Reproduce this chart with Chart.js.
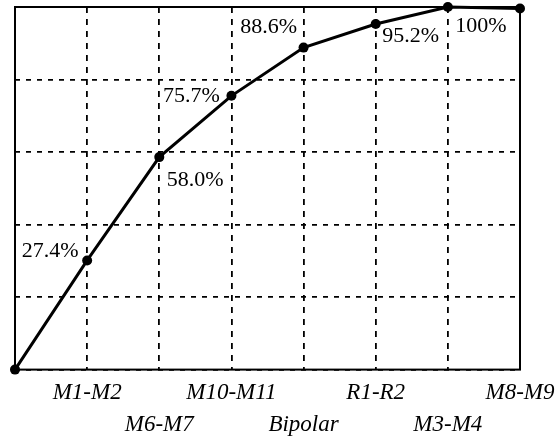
<!DOCTYPE html>
<html>
<head>
<meta charset="utf-8">
<script src="https://cdn.jsdelivr.net/npm/chart.js@4"></script>
<style>
  body { margin: 0; background: #fff; }
  #wrap { width: 560px; height: 441px; }
</style>
</head>
<body>
<div id="wrap"><canvas id="myChart"></canvas></div>
<script>
const categories = ['', 'M1-M2', 'M6-M7', 'M10-M11', 'Bipolar', 'R1-R2', 'M3-M4', 'M8-M9'];
const values = [0, 30.1, 58.6, 75.5, 88.8, 95.3, 100, 99.6];
const valueLabels = ['', '27.4%', '58.0%', '75.7%', '88.6%', '95.2%', '100%', ''];
const yTicks = [0, 20, 40, 60, 80, 100];

const serif = "'Liberation Serif', 'Times New Roman', Times, serif";

// where each percentage sits relative to its point
const labelOffsets = [[0, 0], [-37, -9], [36, 23], [-40, 0], [-35, -20], [35, 12], [33, 19], [0, 0]];

const pointLabels = {
    id: 'pointLabels',
    afterDatasetsDraw(chart) {
        const ctx = chart.ctx;
        const meta = chart.getDatasetMeta(0);
        ctx.save();
        ctx.font = '22px ' + serif;
        ctx.fillStyle = '#000';
        ctx.textAlign = 'center';
        ctx.textBaseline = 'middle';
        meta.data.forEach((pt, i) => {
            if (!valueLabels[i]) return;
            ctx.fillText(valueLabels[i], pt.x + labelOffsets[i][0], pt.y + labelOffsets[i][1]);
        });
        ctx.restore();
    }
};

const frame = {
    id: 'frame',
    beforeDatasetsDraw(chart) {
        const a = chart.chartArea;
        const ctx = chart.ctx;
        ctx.save();
        ctx.strokeStyle = '#000';
        ctx.lineWidth = 2;
        ctx.strokeRect(a.left, a.top, a.right - a.left, a.bottom - a.top);
        ctx.restore();
    }
};

const ctx = document.getElementById('myChart');
const myChart = new Chart(ctx, {
    type: 'line',
    data: {
        labels: categories,
        datasets: [{
            data: values,
            borderColor: '#000',
            backgroundColor: '#000',
            borderWidth: 3,
            pointRadius: 5,
            pointBackgroundColor: '#000',
            pointBorderWidth: 0,
            tension: 0,
            fill: false,
            clip: false
        }]
    },
    options: {
        responsive: true,
        maintainAspectRatio: false,
        animation: false,
        layout: { padding: { left: 15, top: 7, right: 40, bottom: -7 } },
        plugins: { legend: { display: false }, tooltip: { enabled: false } },
        scales: {
            x: {
                offset: false,
                afterFit: axis => { axis.paddingLeft = 0; axis.paddingRight = 0; },
                grid: { color: '#000', lineWidth: 1.8, drawTicks: false },
                border: { display: false, dash: [6, 6] },
                ticks: {
                    autoSkip: false,
                    maxRotation: 0,
                    padding: 7,
                    color: '#000',
                    font: { family: serif, size: 23, style: 'italic', lineHeight: 1.4 },
                    callback: (v, i) => i % 2 === 1 ? [categories[i], ''] : ['', categories[i]]
                }
            },
            y: {
                min: 0,
                max: 100,
                afterBuildTicks: axis => { axis.ticks = yTicks.map(v => ({ value: v })); },
                grid: { color: '#000', lineWidth: 1.8, drawTicks: false },
                border: { display: false, dash: [5, 6] },
                ticks: { display: false }
            }
        }
    },
    plugins: [frame, pointLabels]
});
</script>
</body>
</html>
